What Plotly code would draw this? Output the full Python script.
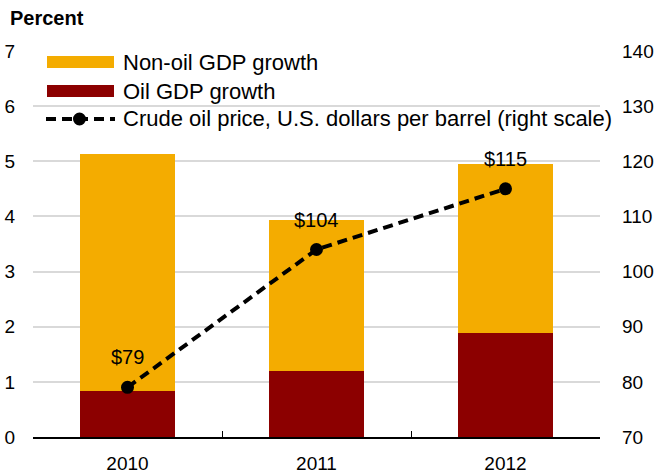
import plotly.graph_objects as go

years = ["2010", "2011", "2012"]
oil_gdp = [0.83, 1.2, 1.88]
non_oil_gdp = [4.3, 2.73, 3.07]
oil_price = [79, 104, 115]

FONT = "Liberation Sans, Arial, sans-serif"

# plot area in pixels (used for the hand-made legend)
L, R, T, B = 33, 600, 51, 437


def px_x(x):
    return (x - L) / (R - L)


def px_y(y):
    return (B - y) / (B - T)


fig = go.Figure()
fig.add_trace(
    go.Bar(
        x=years,
        y=oil_gdp,
        name="Oil GDP growth",
        marker=dict(color="#8C0000", line_width=0),
        width=0.5,
    )
)
fig.add_trace(
    go.Bar(
        x=years,
        y=non_oil_gdp,
        name="Non-oil GDP growth",
        marker=dict(color="#F4AC00", line_width=0),
        width=0.5,
    )
)
fig.add_trace(
    go.Scatter(
        x=years,
        y=oil_price,
        yaxis="y2",
        mode="lines+markers",
        name="Crude oil price, U.S. dollars per barrel (right scale)",
        line=dict(color="black", width=4, dash="10px,6px"),
        marker=dict(color="black", size=13),
    )
)

# price labels; category axes take the category index for annotations
annotations = [
    dict(
        x=i,
        y=p,
        yref="y2",
        text="$%d" % p,
        showarrow=False,
        yshift=30,
        font=dict(size=20, color="black", family=FONT),
    )
    for i, p in enumerate(oil_price)
]

# legend drawn by hand so the swatches are wide like the original
legend_items = [
    ("Non-oil GDP growth", "#F4AC00", 62),
    ("Oil GDP growth", "#8C0000", 91),
]
shapes = []
for label, color, cy in legend_items:
    shapes.append(
        dict(
            type="rect",
            xref="paper",
            yref="paper",
            x0=px_x(47),
            x1=px_x(114),
            y0=px_y(cy + 6),
            y1=px_y(cy - 6),
            fillcolor=color,
            line_width=0,
            layer="above",
        )
    )
    annotations.append(
        dict(
            xref="paper",
            yref="paper",
            x=px_x(121),
            y=px_y(cy),
            xanchor="left",
            yanchor="middle",
            text=label,
            showarrow=False,
            font=dict(size=22, color="black", family=FONT),
        )
    )

shapes.append(
    dict(
        type="line",
        xref="paper",
        yref="paper",
        x0=px_x(46),
        x1=px_x(115),
        y0=px_y(119),
        y1=px_y(119),
        line=dict(color="black", width=4, dash="10px,6px"),
    )
)
shapes.append(
    dict(
        type="circle",
        xref="paper",
        yref="paper",
        x0=px_x(73),
        x1=px_x(86),
        y0=px_y(125.5),
        y1=px_y(112.5),
        fillcolor="black",
        line_width=0,
    )
)
annotations.append(
    dict(
        xref="paper",
        yref="paper",
        x=px_x(121),
        y=px_y(119),
        xanchor="left",
        yanchor="middle",
        text="Crude oil price, U.S. dollars per barrel (right scale)",
        showarrow=False,
        font=dict(size=22, color="black", family=FONT),
    )
)
annotations.append(
    dict(
        xref="paper",
        yref="paper",
        x=px_x(8),
        y=px_y(18),
        xanchor="left",
        yanchor="middle",
        text="<b>Percent</b>",
        showarrow=False,
        font=dict(size=20, color="black", family=FONT),
    )
)

fig.update_layout(
    width=659,
    height=476,
    barmode="stack",
    showlegend=False,
    paper_bgcolor="white",
    plot_bgcolor="white",
    font=dict(family=FONT, size=19, color="black"),
    margin=dict(l=L, r=659 - R, t=T, b=476 - B),
    xaxis=dict(
        type="category",
        range=[-0.5, 2.5],
        automargin=False,
        showline=True,
        linecolor="black",
        linewidth=2,
        ticks="inside",
        tickson="boundaries",
        ticklen=6,
        tickcolor="black",
        showgrid=False,
        ticklabelstandoff=8,
        tickfont=dict(size=19),
    ),
    yaxis=dict(
        range=[0, 7],
        dtick=1,
        automargin=False,
        showgrid=True,
        gridcolor="#D9D9D9",
        gridwidth=2,
        zeroline=False,
        showline=False,
        ticks="",
        ticklabelstandoff=17,
        tickfont=dict(size=19),
    ),
    yaxis2=dict(
        range=[70, 140],
        dtick=10,
        automargin=False,
        overlaying="y",
        side="right",
        showgrid=False,
        zeroline=False,
        showline=False,
        ticks="",
        ticklabelstandoff=21,
        tickfont=dict(size=19),
    ),
    shapes=shapes,
    annotations=annotations,
)

# drop the browser's default 8px body margin so the figure fills the window
fig.write_html(
    "out.html",
    config={"displayModeBar": False},
    post_script="document.body.style.margin='0';document.body.style.overflow='hidden';",
)
